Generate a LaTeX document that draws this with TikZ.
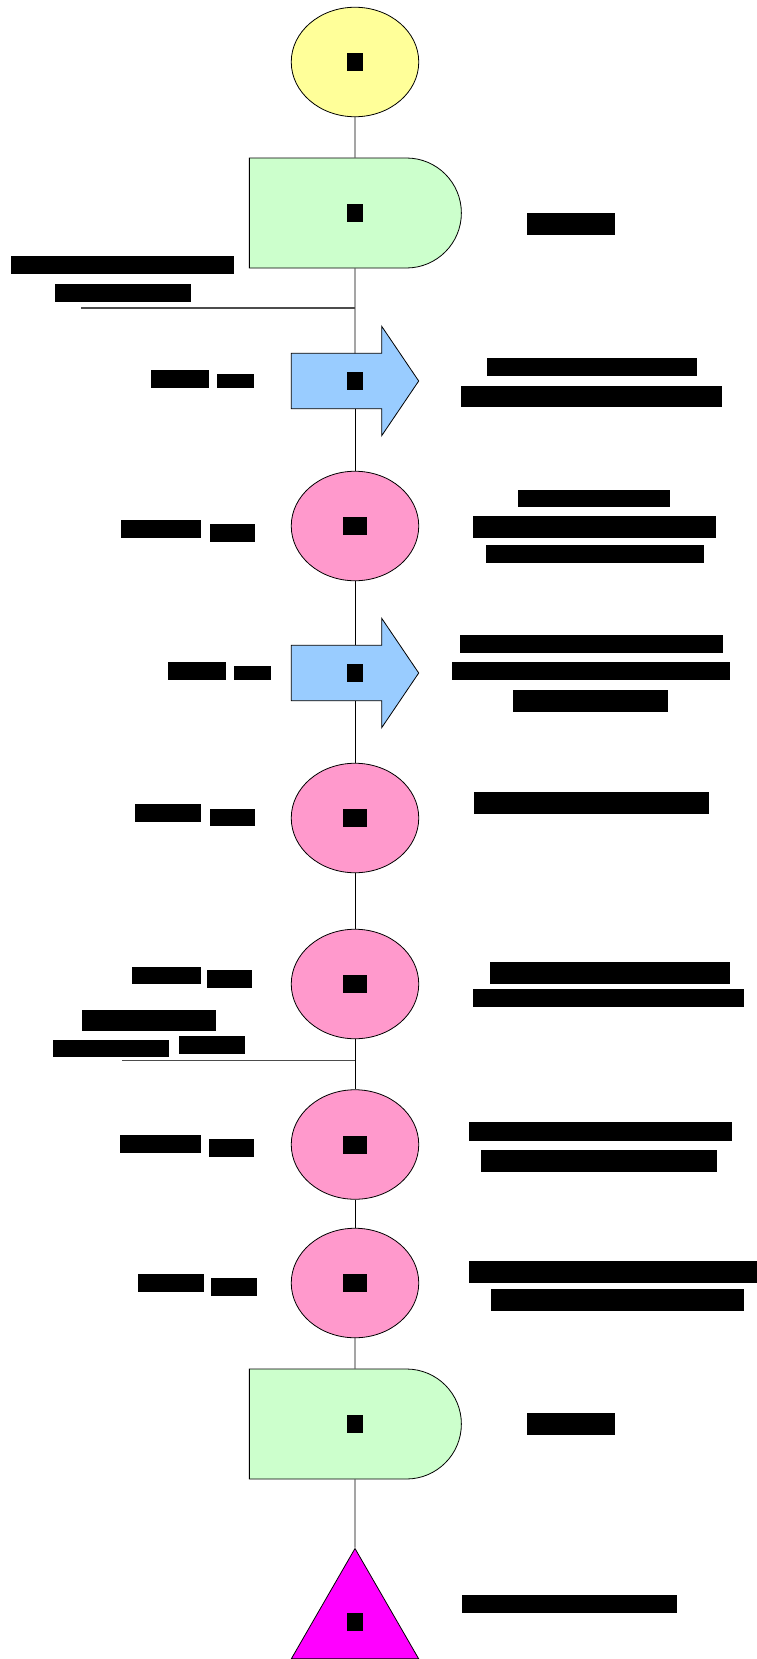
\documentclass[tikz,border=0pt]{standalone}
\usepackage{fontspec}
\setmainfont{Liberation Sans}
\usepackage{xcolor}
\usetikzlibrary{shapes.geometric,shapes.misc,backgrounds}
\definecolor{startyellow}{HTML}{FFFF99}
\definecolor{waitgreen}{HTML}{CCFFCC}
\definecolor{moveblue}{HTML}{99CCFF}
\definecolor{stoppink}{HTML}{FF99CC}
\definecolor{endmagenta}{HTML}{FF00FF}
\newcommand{\stepno}[1]{{\setlength{\fboxsep}{3.5pt}\colorbox{black}{#1}}}
\tikzset{
    base-shape/.style = {draw=black, line width=0.8pt, inner sep=0pt, font=\bfseries\fontsize{16}{18}\selectfont},
    start-oval/.style = {base-shape, ellipse, fill=startyellow, minimum width=127.5pt, minimum height=109.5pt},
    stop-oval/.style = {base-shape, ellipse, fill=stoppink, minimum width=127.5pt, minimum height=109.5pt},
    wait-box/.style = {base-shape, rounded rectangle, rounded rectangle left arc=none, fill=waitgreen, minimum width=212pt, minimum height=110pt},
    move-box/.style = {inner sep=0pt, minimum width=127pt, minimum height=55pt, font=\bfseries\fontsize{16}{18}\selectfont},
    move-arrow/.style = {draw=black, line width=0.8pt, fill=moveblue},
    end-triangle/.style = {base-shape, regular polygon, regular polygon sides=3, minimum size=147pt, fill=endmagenta},
    note/.style = {fill=black, text=black, inner sep=0pt, minimum height=18pt, font=\bfseries\fontsize{13}{15}\selectfont},
    link/.style = {draw=black, line width=0.8pt},
    divider/.style = {draw=black!70, line width=1.2pt},
}

\begin{document}
\begin{tikzpicture}[x=1pt, y=-1pt]
\useasboundingbox (0,0) rectangle (756,1659);

% steps along the route
\node [start-oval] (e1) at (355,62) {\stepno{1}};
\node [wait-box] (d1) at (355,213) {\stepno{2}};
\node [move-box] (a1) at (355,381) {\stepno{3}};
\node [stop-oval] (c1) at (355,526) {\stepno{11}};
\node [move-box] (a2) at (355,673) {\stepno{4}};
\node [stop-oval] (c2) at (355,818) {\stepno{12}};
\node [stop-oval] (c3) at (355,984) {\stepno{13}};
\node [stop-oval] (c4) at (355,1144.5) {\stepno{14}};
\node [stop-oval] (c5) at (355,1283) {\stepno{15}};
\node [wait-box] (d2) at (355,1424) {\stepno{5}};
\node [end-triangle] (tri) at (355,1622) {\raisebox{-7pt}{\stepno{6}}};

% arrow outlines behind the move steps
\begin{scope}[on background layer]
\foreach \a in {a1,a2}
    \draw[move-arrow] (\a.north west) -- ([xshift=-37pt]\a.north east) -- ++(0,-27)
        -- (\a.east) -- ([xshift=-37pt,yshift=-27pt]\a.south east)
        -- ([xshift=-37pt]\a.south east) -- (\a.south west) -- cycle;
\end{scope}

\foreach \u/\v in {e1/d1, d1/a1, a1/c1, c1/a2, a2/c2, c2/c3, c3/c4, c4/c5, c5/d2, d2/tri}
    \draw[link] (\u) -- (\v);

% section borders
\coordinate (cut1) at (81,308);
\coordinate (cut2) at (122,1060.7);
\draw[divider] (cut1) -- (cut1 -| d1.south);
\draw[divider] (cut2) -- (cut2 -| c3.south);

\node[note, minimum width=223pt] (cut1-a) at (122.4,265) {Transfer to the main line};
\node[note, minimum width=136pt] (cut1-b) at (123,293) {section A};
\node[note, minimum width=134pt, minimum height=21pt] (cut2-a) at (149.3,1020) {Border of the};
\node[note, minimum width=116pt, minimum height=17pt] (cut2-b) at (110.5,1048.6) {service area,};
\node[note, minimum width=66pt] (cut2-c) at (211.8,1045) {zone B};

% distances on the left
\node[note, minimum width=58pt] (a1-len) at (179.6,379) {1310};
\node[note, minimum width=37pt, minimum height=14pt] (a1-unit) at (235.5,381) {nm};
\node[note, minimum width=80pt] (c1-len) at (161,529) {12,45};
\node[note, minimum width=45pt] (c1-unit) at (232.5,532.5) {km};
\node[note, minimum width=58pt] (a2-len) at (196.6,671) {1550};
\node[note, minimum width=37pt, minimum height=14pt] (a2-unit) at (252.5,673) {nm};
\node[note, minimum width=66pt] (c2-len) at (168,813) {18,3};
\node[note, minimum width=45.5pt, minimum height=17pt] (c2-unit) at (232.7,817) {km};
\node[note, minimum width=69pt, minimum height=17pt] (c3-len) at (166.5,975) {4,567};
\node[note, minimum width=45pt, minimum height=17.5pt] (c3-unit) at (229.5,979) {km};
\node[note, minimum width=81pt] (c4-len) at (160.5,1144) {23,456};
\node[note, minimum width=45.5pt] (c4-unit) at (231.7,1148) {km};
\node[note, minimum width=66pt] (c5-len) at (170.8,1283) {1,234};
\node[note, minimum width=46pt] (c5-unit) at (234,1287) {km};

% descriptions on the right
\node[note, minimum width=88pt, minimum height=22pt] (d1-text) at (571,224) {Pause};
\node[note, minimum width=210pt] (a1-text1) at (592,367) {Signal leaves the hub};
\node[note, minimum width=261pt, minimum height=21pt] (a1-text2) at (591.5,396.5) {and enters the cable duct};
\node[note, minimum width=152pt, minimum height=17pt] (c1-text1) at (593.6,498) {Splice box};
\node[note, minimum width=243pt, minimum height=22pt] (c1-text2) at (594.7,527) {first joint on the route};
\node[note, minimum width=218pt] (c1-text3) at (595,554) {below the river bank};
\node[note, minimum width=263pt] (a2-text1) at (591,644) {Signal turns into the feeder};
\node[note, minimum width=278pt] (a2-text2) at (590.5,671) {cable along the main road};
\node[note, minimum width=155pt, minimum height=22pt] (a2-text3) at (590,701) {to the depot};
\node[note, minimum width=235pt, minimum height=22pt] (c2-text) at (591.3,803) {Repeater at the junction};
\node[note, minimum width=240pt, minimum height=22pt] (c3-text1) at (609.5,973) {Splice box in the manhole};
\node[note, minimum width=271pt] (c3-text2) at (608.3,998) {next to the substation wall};
\node[note, minimum width=263pt, minimum height=19pt] (c4-text1) at (600.5,1131.7) {Final joint before the};
\node[note, minimum width=236pt, minimum height=22pt] (c4-text2) at (599.4,1161) {customer distribution frame};
\node[note, minimum width=291pt, minimum height=22pt] (c5-text1) at (614.5,1271.7) {Terminal box at the end of the line};
\node[note, minimum width=253pt, minimum height=22pt] (c5-text2) at (617.5,1300) {inside the operator building};
\node[note, minimum width=88pt, minimum height=22pt] (d2-text) at (571,1424) {Pause};
\node[note, minimum width=215pt] (tri-text) at (569,1604) {End of the route};
\end{tikzpicture}
\end{document}
